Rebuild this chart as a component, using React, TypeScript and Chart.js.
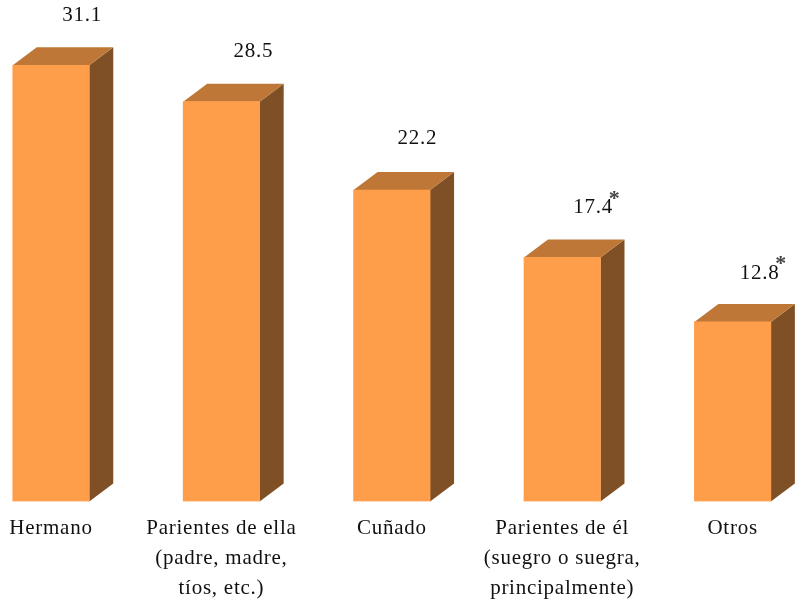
import React, { useEffect, useRef } from "react";
import { Chart, registerables } from "chart.js";

Chart.register(...registerables);

const categories: string[][] = [
  ["Hermano"],
  ["Parientes de ella", "(padre, madre,", "tíos, etc.)"],
  ["Cuñado"],
  ["Parientes de él", "(suegro o suegra,", "principalmente)"],
  ["Otros"],
];
const values = [31.1, 28.5, 22.2, 17.4, 12.8];
const notes = ["", "", "", "*", "*"];
const labelShiftX = [31, 32, 25.5, 31, 27];
const labelShiftY = [-50.2, -50, -52, -49.5, -48.5];

const FONT = '"Liberation Serif", "Times New Roman", serif';
const FRONT = "#FF9E4A";
const TOP = "#BE7736";
const SIDE = "#7F5025";
const DEPTH_X = 24;
const DEPTH_Y = 18;

const box3d = {
  id: "box3d",
  beforeDraw(chart: any) {
    chart.ctx.letterSpacing = "0.75px";
  },
  beforeDatasetsDraw(chart: any) {
    const { ctx } = chart;
    chart.getDatasetMeta(0).data.forEach((bar: any) => {
      const { x, y, base, width } = bar.getProps(["x", "y", "base", "width"], true);
      const l = x - width / 2;
      const r = x + width / 2;
      ctx.fillStyle = SIDE;
      ctx.beginPath();
      ctx.moveTo(r, y);
      ctx.lineTo(r + DEPTH_X, y - DEPTH_Y);
      ctx.lineTo(r + DEPTH_X, base - DEPTH_Y);
      ctx.lineTo(r, base);
      ctx.closePath();
      ctx.fill();
      ctx.fillStyle = TOP;
      ctx.beginPath();
      ctx.moveTo(l, y);
      ctx.lineTo(l + DEPTH_X, y - DEPTH_Y);
      ctx.lineTo(r + DEPTH_X, y - DEPTH_Y);
      ctx.lineTo(r, y);
      ctx.closePath();
      ctx.fill();
    });
  },
  afterDatasetsDraw(chart: any) {
    const { ctx } = chart;
    ctx.save();
    ctx.textAlign = "center";
    ctx.textBaseline = "middle";
    chart.getDatasetMeta(0).data.forEach((bar: any, i: number) => {
      const tx = bar.x + labelShiftX[i];
      const ty = bar.y + labelShiftY[i];
      const text = values[i].toFixed(1);
      ctx.font = `21px ${FONT}`;
      ctx.fillStyle = "#111111";
      ctx.fillText(text, tx, ty);
      if (notes[i]) {
        const w = ctx.measureText(text).width;
        ctx.font = `bold 22px ${FONT}`;
        ctx.fillStyle = "#444444";
        ctx.fillText(notes[i], tx + w / 2 + 1.5, ty - 9);
      }
    });
    ctx.restore();
  },
};

export default function App() {
  const ref = useRef<HTMLCanvasElement>(null);
  useEffect(() => {
    const chart = new Chart(ref.current!, {
      type: "bar",
      data: {
        datasets: [
          {
            data: values.map((v, i) => ({ x: i, y: v })),
            backgroundColor: FRONT,
            borderWidth: 0,
            barThickness: 76.5,
          },
        ],
      },
      plugins: [box3d],
      options: {
        responsive: false,
        animation: false,
        layout: { padding: { top: 10.5, left: 0, right: 0, bottom: 0 } },
        plugins: { legend: { display: false }, tooltip: { enabled: false }, title: { display: false } },
        scales: {
          y: { display: false, min: 0, max: 35 },
          x: {
            type: "linear",
            offset: false,
            min: -0.2993,
            max: 4.366,
            grid: { display: false },
            border: { display: false },
            afterBuildTicks(scale: any) {
              scale.ticks = categories.map((_, i) => ({ value: i }));
            },
            afterFit(scale: any) {
              scale.height = 98.5;
            },
            ticks: {
              autoSkip: false,
              maxRotation: 0,
              minRotation: 0,
              padding: 4,
              color: "#111111",
              font: { family: FONT, size: 21, lineHeight: 1.43 },
              callback: (v: any) => categories[v as number],
            },
          },
        },
      } as any,
    });
    return () => chart.destroy();
  }, []);
  return (
    <canvas
      ref={ref}
      width={795}
      height={600}
      style={{ position: "absolute", left: 0, top: 0, display: "block" }}
    />
  );
}
